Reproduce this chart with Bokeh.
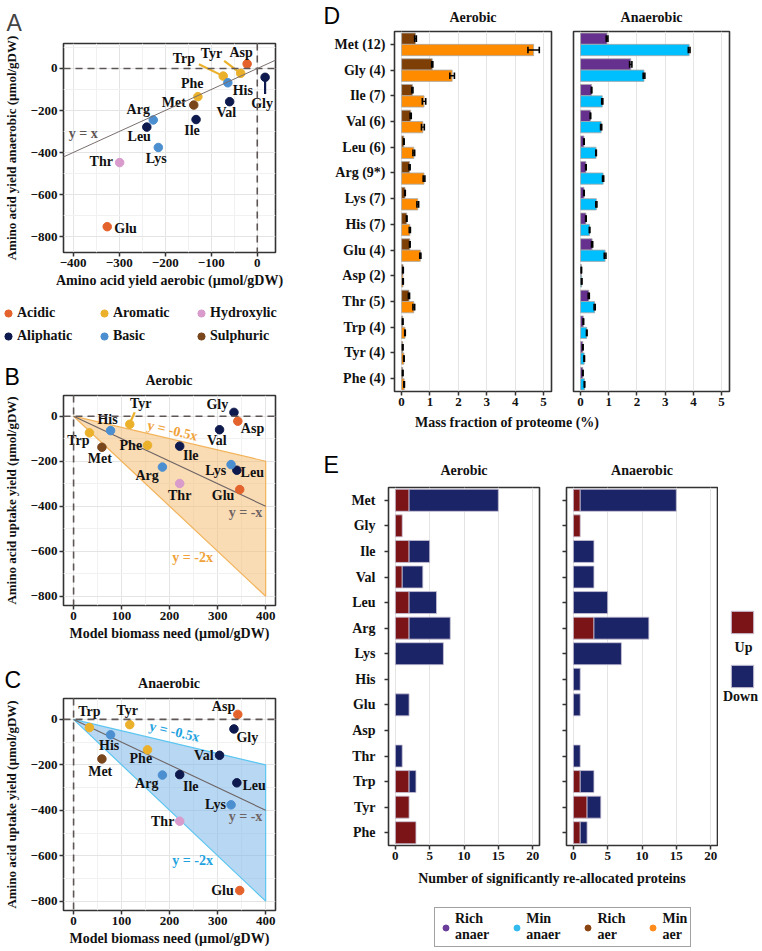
from bokeh.plotting import figure
from bokeh.models import (Range1d, FactorRange, Span, Slope, Label, Legend, LegendItem,
                          ColumnDataSource, Div, FixedTicker, CustomJSTickFormatter)
from bokeh.layouts import row, column
from bokeh.transform import dodge
from bokeh.core.properties import value
from bokeh.embed import file_html
from bokeh.resources import INLINE

SERIF = "Liberation Serif"
SANS = "Liberation Sans"
INK = "#111111"
FRAME = "#333333"

# ---------------- data: panels A-C ----------------
aa_names = ["Asp", "Tyr", "Trp", "His", "Phe", "Met", "Val", "Ile", "Gly", "Arg", "Leu", "Lys", "Thr", "Glu"]
aa_class = ["Acidic", "Aromatic", "Aromatic", "Basic", "Aromatic", "Sulphuric", "Aliphatic", "Aliphatic",
            "Aliphatic", "Basic", "Aliphatic", "Basic", "Hydroxylic", "Acidic"]
biomass_need = [342, 117, 33, 77, 154, 59, 304, 221, 334, 185, 340, 328, 221, 346]
yield_aerobic = [-22, -36, -74, -64, -129, -138, -60, -133, 17, -226, -240, -215, -299, -326]
yield_anaerobic = [22, -23, -36, -68, -134, -174, -158, -243, -42, -245, -279, -376, -448, -753]
classes = ["Acidic", "Aromatic", "Hydroxylic", "Aliphatic", "Basic", "Sulphuric"]
class_colors = ["#E4622B", "#EBB12B", "#D99BCB", "#0E1A4E", "#4C8FD0", "#7A461B"]
ref_slopes = [1, -1, -0.5, -2]
band_x = [0, 400]

# ---------------- data: panel D ----------------
d_aa = ["Met (12)", "Gly (4)", "Ile (7)", "Val (6)", "Leu (6)", "Arg (9*)", "Lys (7)",
        "His (7)", "Glu (4)", "Asp (2)", "Thr (5)", "Trp (4)", "Tyr (4)", "Phe (4)"]
rich_aer = [0.49, 1.08, 0.38, 0.32, 0.08, 0.28, 0.12, 0.18, 0.29, 0.05, 0.26, 0.04, 0.04, 0.04]
rich_aer_err = [0.03, 0.02, 0.02, 0.02, 0.01, 0.02, 0.01, 0.01, 0.01, 0.01, 0.02, 0.01, 0.01, 0.01]
min_aer = [4.65, 1.78, 0.79, 0.75, 0.43, 0.79, 0.57, 0.29, 0.66, 0.05, 0.43, 0.12, 0.08, 0.09]
min_aer_err = [0.20, 0.08, 0.06, 0.05, 0.03, 0.03, 0.03, 0.02, 0.02, 0.01, 0.03, 0.01, 0.01, 0.01]
rich_anaer = [0.94, 1.78, 0.39, 0.35, 0.12, 0.19, 0.12, 0.19, 0.41, 0.03, 0.29, 0.10, 0.08, 0.08]
rich_anaer_err = [0.03, 0.04, 0.01, 0.01, 0.01, 0.01, 0.01, 0.01, 0.02, 0.005, 0.02, 0.01, 0.01, 0.01]
min_anaer = [3.85, 2.25, 0.77, 0.73, 0.55, 0.80, 0.56, 0.32, 0.87, 0.04, 0.50, 0.22, 0.13, 0.14]
min_anaer_err = [0.03, 0.03, 0.02, 0.02, 0.01, 0.02, 0.02, 0.01, 0.03, 0.01, 0.02, 0.01, 0.01, 0.01]
d_xticks = [0, 1, 2, 3, 4, 5]
d_series = ["Rich\nanaer", "Min\nanaer", "Rich\naer", "Min\naer"]
d_colors = ["#6A3D9A", "#33BBEE", "#8B4513", "#FF8C1A"]

# ---------------- data: panel E ----------------
e_aa = ["Met", "Gly", "Ile", "Val", "Leu", "Arg", "Lys", "His", "Glu", "Asp", "Thr", "Trp", "Tyr", "Phe"]
up_aer = [2, 1, 2, 1, 2, 2, 0, 0, 0, 0, 0, 2, 2, 3]
down_aer = [13, 0, 3, 3, 4, 6, 7, 0, 2, 0, 1, 1, 0, 0]
up_anaer = [1, 1, 0, 0, 0, 3, 0, 0, 0, 0, 0, 1, 2, 1]
down_anaer = [14, 0, 3, 3, 5, 8, 7, 1, 1, 0, 1, 2, 2, 1]
e_xticks = [0, 5, 10, 15, 20]
UP_COLOR = "#7B1416"
DOWN_COLOR = "#1C2468"

# ---------------- styling helpers ----------------
GRID = "#E4E4E4"
MINOR = "#F1F1F1"


def base_fig(width, height, xr, yr, bl, br, bt, bb):
    p = figure(width=width, height=height, x_range=xr, y_range=yr,
               output_backend="svg", toolbar_location=None,
               min_border_left=bl, min_border_right=br, min_border_top=bt, min_border_bottom=bb)
    p.outline_line_color = FRAME
    p.outline_line_width = 1.6
    for ax in p.axis:
        ax.axis_line_color = None
        ax.major_tick_line_color = FRAME
        ax.major_tick_line_width = 1.5
        ax.major_tick_out = 4
        ax.major_tick_in = 0
        ax.minor_tick_line_color = None
        ax.major_label_text_font = SERIF
        ax.major_label_text_font_style = "bold"
        ax.major_label_text_font_size = "13px"
        ax.major_label_text_color = INK
        ax.axis_label_text_font = SERIF
        ax.axis_label_text_font_style = "bold"
        ax.axis_label_text_font_size = "14px"
        ax.axis_label_text_color = INK
        ax.axis_label_standoff = 3
        ax.major_label_standoff = 2
    p.grid.grid_line_color = GRID
    p.grid.grid_line_width = 1
    return p


def strip(width, height):
    p = figure(width=width, height=height, x_range=Range1d(0, width), y_range=Range1d(height, 0),
               x_axis_type=None, y_axis_type=None, output_backend="svg",
               toolbar_location=None, min_border=0)
    p.outline_line_color = None
    return p


def put_text(p, x, y, text, size="14px", font=SERIF, style="bold", align="center", color=INK):
    p.add_layout(Label(x=x, y=y, text=text, text_font=font, text_font_style=style,
                       text_font_size=size, text_color=color, text_align=align,
                       text_baseline="middle"))


def letter(p, text, x, y):
    put_text(p, x, y, text, size="23px", font=SANS, style="normal", align="left", color="#000000")


def ticks_with_minor(ticks):
    step = ticks[1] - ticks[0]
    minor = [t + step / 2 for t in ticks[:-1]] + [ticks[0] - step / 2, ticks[-1] + step / 2]
    return FixedTicker(ticks=ticks, minor_ticks=minor)


def zero_lines(p):
    for dim in ("width", "height"):
        p.add_layout(Span(location=0, dimension=dim, line_color="#5E5555",
                          line_dash="7 5", line_width=1.6))


color_of = dict(zip(classes, class_colors))
pt_colors = [color_of[c] for c in aa_class]


def scatter_panel(width, height, xr, yr, borders, xticks, yticks, xlabel, ylabel):
    bl, br, bt, bb = borders
    p = base_fig(width, height, Range1d(*xr), Range1d(*yr), bl, br, bt, bb)
    p.xaxis.ticker = ticks_with_minor(xticks)
    p.yaxis.ticker = ticks_with_minor(yticks)
    p.grid.minor_grid_line_color = MINOR
    p.xaxis.axis_label = xlabel
    p.yaxis.axis_label = ylabel
    p.yaxis.axis_label_text_font_size = "13px"
    p.yaxis.axis_label_standoff = 9
    ux = (xr[1] - xr[0]) / (width - bl - br)
    uy = (yr[1] - yr[0]) / (height - bt - bb)
    zero_lines(p)
    return p, ux, uy


def add_points(p, xs, ys, offsets, leaders, ux, uy):
    idx = {a: i for i, a in enumerate(aa_names)}
    for (a, dx0, dy0, dx1, dy1) in leaders:
        i = idx[a]
        p.segment(x0=[xs[i] + dx0 * ux], y0=[ys[i] - dy0 * uy],
                  x1=[xs[i] + dx1 * ux], y1=[ys[i] - dy1 * uy],
                  line_color=pt_colors[i], line_width=2.2)
    src = ColumnDataSource(dict(x=xs, y=ys, aa=aa_names, color=pt_colors,
                                dx=[offsets[a][0] for a in aa_names],
                                dy=[offsets[a][1] for a in aa_names]))
    p.scatter(x="x", y="y", size=8.5, fill_color="color", line_color="color", source=src)
    p.text(x="x", y="y", text="aa", x_offset="dx", y_offset="dy", source=src,
           text_font=value(SERIF), text_font_style="bold", text_font_size="14px",
           text_color=INK, text_align="center", text_baseline="middle")


# ================= Panel A =================
A_off = {"Asp": (-6, -11.4), "Tyr": (-29.3, -20), "Trp": (-39.4, -17.7), "His": (15, 8),
         "Phe": (-5.6, -13), "Met": (-20, -2.3), "Val": (-3.4, 11), "Ile": (-4, 11.3),
         "Gly": (-3, 26), "Arg": (-15, -10.6), "Leu": (-7.6, 9.6), "Lys": (-2, 11.4),
         "Thr": (-18.4, -0.7), "Glu": (18.3, 2)}
A_lead = [("Tyr", -16.6, -12.6, -3, -2.3), ("Trp", -24.4, -12, -3.5, -1.7), ("Gly", 0, 3.5, 0, 17)]
pA, uxA, uyA = scatter_panel(288, 294, (-421, 39.6), (-876, 119), (62, 13, 40, 42),
                             [-400, -300, -200, -100, 0], [-800, -600, -400, -200, 0],
                             "Amino acid yield aerobic (µmol/gDW)",
                             "Amino acid yield anaerobic (µmol/gDW)")
pA.title.text = "A"
pA.title.align = "left"
pA.title.offset = -57
pA.title.text_font = SANS
pA.title.text_font_style = "normal"
pA.title.text_font_size = "23px"
pA.title.standoff = 15
pA.add_layout(Slope(gradient=ref_slopes[0], y_intercept=0, line_color="#7A6E6E", line_width=1))
pA.add_layout(Label(x=-378, y=-308, text="y = x", text_font=SERIF, text_font_style="bold",
                    text_font_size="14px", text_color="#5E5656", text_align="center",
                    text_baseline="middle"))
add_points(pA, yield_aerobic, yield_anaerobic, A_off, A_lead, uxA, uyA)

# ---- strip with class key (3 x 2 grid), letter B and the "Aerobic" title ----
mid1 = strip(288, 98)
KEY_COL_X = [-1, 95, 192]
KEY_ROW_VY = [69, 46]
for k, (c, col) in enumerate(zip(classes, class_colors)):
    xs = [x for x, kk in zip(yield_aerobic, aa_class) if kk == c]
    ys = [y for y, kk in zip(yield_anaerobic, aa_class) if kk == c]
    r = mid1.scatter(x=xs, y=ys, size=8, fill_color=col, line_color=col, visible=False)
    leg = Legend(items=[LegendItem(label=c, renderers=[r])],
                 location=(KEY_COL_X[k % 3], KEY_ROW_VY[k // 3]),
                 glyph_width=18, glyph_height=20, label_standoff=0,
                 padding=0, margin=0, border_line_color=None, background_fill_alpha=0,
                 inactive_fill_alpha=0, label_height=20,
                 label_text_font=SERIF, label_text_font_style="bold", label_text_font_size="14px",
                 label_text_color=INK)
    mid1.add_layout(leg)
letter(mid1, "B", 4, 82)
put_text(mid1, 168.5, 86, "Aerobic")


# ================= Panels B & C =================
def band_panel(height, bt, bb, yvals, offsets, leaders, fill, edge, lab_color, lab05, lab2, lab1):
    p, ux, uy = scatter_panel(288, height, (-21, 420.5), (-841, 92), (62, 13, bt, bb),
                              [0, 100, 200, 300, 400], [-800, -600, -400, -200, 0],
                              "Model biomass need (µmol/gDW)",
                              "Amino acid uptake yield (µmol/gDW)")
    bx = [band_x[0], band_x[1], band_x[1]]
    by = [ref_slopes[2] * band_x[0], ref_slopes[2] * band_x[1], ref_slopes[3] * band_x[1]]
    p.patch(x=bx, y=by, fill_color=fill, fill_alpha=0.55, line_color=edge, line_width=1.2)
    p.line(x=band_x, y=[ref_slopes[1] * v for v in band_x], line_color="#6E6464", line_width=1.1)
    p.add_layout(Label(x=lab05[0], y=lab05[1], text="y = -0.5x", angle=-0.229, text_font=SERIF,
                       text_font_style="bold", text_font_size="14px", text_color=lab_color,
                       text_align="center", text_baseline="middle"))
    p.add_layout(Label(x=lab2[0], y=lab2[1], text="y = -2x", text_font=SERIF,
                       text_font_style="bold", text_font_size="14px", text_color=lab_color,
                       text_align="center", text_baseline="middle"))
    p.add_layout(Label(x=lab1[0], y=lab1[1], text="y = -x", text_font=SERIF,
                       text_font_style="bold", text_font_size="14px", text_color="#6E6464",
                       text_align="center", text_baseline="middle"))
    add_points(p, biomass_need, yvals, offsets, leaders, ux, uy)
    return p


B_off = {"Asp": (14.7, 7), "Tyr": (11, -20.4), "Trp": (-11, 7.7), "His": (-3, -10.7),
         "Phe": (-16.7, 0.3), "Met": (-2, 11.6), "Val": (-2.7, 10.7), "Ile": (11, 9.3),
         "Gly": (-16.6, -7.4), "Arg": (-15.3, 8.7), "Leu": (15.4, 2), "Lys": (-15.3, 6.3),
         "Thr": (0, 12.3), "Glu": (-16.7, 6)}
B_lead = [("Tyr", 5, -12, 1, -3)]
pB = band_panel(263, 3, 50, yield_aerobic, B_off, B_lead, "#F4BE76", "#F2B35A", "#F0A23A",
                (206, -64), (248, -626), (358, -427))

mid2 = strip(288, 37)
letter(mid2, "C", 4, 24)
put_text(mid2, 168.5, 28, "Anaerobic")

C_off = {"Asp": (-14.3, -8.3), "Tyr": (-2.6, -13.7), "Trp": (0, -15.7), "His": (-1.4, 11),
         "Phe": (-6.7, 9), "Met": (-1.7, 12.7), "Val": (-15.7, 0), "Ile": (11, 11.7),
         "Gly": (13.4, 8.4), "Arg": (-15.7, 8.6), "Leu": (17.3, 2.3), "Lys": (-15.7, -0.7),
         "Thr": (-17, 0), "Glu": (-17.3, 0)}
pC = band_panel(259, 6, 41, yield_anaerobic, C_off, [], "#7DB6EA", "#5CC6F0", "#1FA3E0",
                (210, -54), (248, -622), (358, -427))

# ================= Panel D =================
d_factors = d_aa[::-1]
BAR_H = 0.44
CAP = 0.13


def d_panel(width, bl, br, rich, rich_err, mn, mn_err, c_rich, c_min):
    p = base_fig(width, 384, Range1d(-0.25, 5.28), FactorRange(factors=d_factors), bl, br, 2, 22)
    p.xaxis.ticker = FixedTicker(ticks=d_xticks)
    p.ygrid.grid_line_color = None
    p.yaxis.major_label_text_font_size = "14px"
    p.yaxis.major_label_standoff = 5
    src = ColumnDataSource(dict(aa=d_aa, rich=rich, mn=mn,
                                rich_lo=[v - e for v, e in zip(rich, rich_err)],
                                rich_hi=[v + e for v, e in zip(rich, rich_err)],
                                mn_lo=[v - e for v, e in zip(mn, mn_err)],
                                mn_hi=[v + e for v, e in zip(mn, mn_err)]))
    for col, off, colr in (("rich", BAR_H / 2, c_rich), ("mn", -BAR_H / 2, c_min)):
        yc = dodge("aa", off, range=p.y_range)
        p.hbar(y=yc, left=0, right=col, height=BAR_H, fill_color=colr,
               line_color="#A9A9A9", line_width=0.8, source=src)
        p.segment(x0=col + "_lo", y0=yc, x1=col + "_hi", y1=yc, line_color="black",
                  line_width=1.3, source=src)
        for end in ("_lo", "_hi"):
            p.segment(x0=col + end, x1=col + end,
                      y0=dodge("aa", off - CAP, range=p.y_range),
                      y1=dodge("aa", off + CAP, range=p.y_range),
                      line_color="black", line_width=1.6, source=src)
    return p


pDa = d_panel(274, 106, 11, rich_aer, rich_aer_err, min_aer, min_aer_err, "#7E3F06", "#FF8C00")
pDn = d_panel(200, 11, 33, rich_anaer, rich_anaer_err, min_anaer, min_anaer_err, "#66308F", "#00BFFF")
pDn.yaxis.visible = False

hdrD = strip(474, 29)
letter(hdrD, "D", 35, 15)
put_text(hdrD, 184.5, 17, "Aerobic")
put_text(hdrD, 363, 17, "Anaerobic")

# ================= Panel E =================
e_factors = e_aa[::-1]


def e_panel(width, bl, br, up, down):
    p = base_fig(width, 384, Range1d(-1, 21), FactorRange(factors=e_factors), bl, br, 2, 24)
    p.xaxis.ticker = FixedTicker(ticks=e_xticks)
    p.ygrid.grid_line_color = None
    p.yaxis.major_label_text_font_size = "14px"
    p.yaxis.major_label_standoff = 9
    up_src = ColumnDataSource(dict(aa=[a for a, u in zip(e_aa, up) if u > 0],
                                   v=[u for u in up if u > 0]))
    dn_src = ColumnDataSource(dict(aa=[a for a, d in zip(e_aa, down) if d > 0],
                                   left=[u for u, d in zip(up, down) if d > 0],
                                   right=[u + d for u, d in zip(up, down) if d > 0]))
    p.hbar(y="aa", left=0, right="v", height=0.86, fill_color=UP_COLOR,
           line_color="#C9C3D6", line_width=0.8, source=up_src)
    p.hbar(y="aa", left="left", right="right", height=0.86, fill_color=DOWN_COLOR,
           line_color="#C9C3D6", line_width=0.8, source=dn_src)
    return p


pEa = e_panel(265, 100, 14, up_aer, down_aer)
pEn = e_panel(165, 13, 1, up_anaer, down_anaer)
pEn.yaxis.formatter = CustomJSTickFormatter(code="return ''")

hdrE = strip(474, 52)
letter(hdrE, "E", 35, 31)
put_text(hdrE, 175.5, 37, "Aerobic")
put_text(hdrE, 353.5, 37, "Anaerobic")

# Up / Down key at the right of panel E
pK = strip(44, 384)
k_items = []
for lab, vals, col in (("Up", up_anaer, UP_COLOR), ("Down", down_anaer, DOWN_COLOR)):
    r = pK.hbar(y=list(range(len(vals))), left=0, right=vals, height=0.8,
                fill_color=col, line_color="#C9C3D6", visible=False)
    k_items.append(LegendItem(label=value(""), renderers=[r]))
legK = Legend(items=k_items, location=(10, 155), glyph_width=28, glyph_height=28, spacing=26,
              padding=0, margin=0, label_width=0, label_standoff=0, label_height=0,
              border_line_color=None, background_fill_alpha=0, inactive_fill_alpha=0)
pK.add_layout(legK)
put_text(pK, 25, 172, "Up")
put_text(pK, 22, 224, "Down")


# ================= shared x titles & bottom legend =================
def title_div(text, shift):
    return Div(text=(f'<div style="width:474px;height:20px;line-height:20px;text-align:center;'
                     f'transform:translateX({shift}px);font-family:\'{SERIF}\';font-weight:bold;'
                     f'font-size:14px;color:{INK};white-space:nowrap">{text}</div>'),
               width=474, height=20, margin=0)


divD = title_div("Mass fraction of proteome (%)", -18)
divE = title_div("Number of significantly re-allocated proteins", 27)

pL = strip(474, 62)
leg_items = []
for lab, vals, c in zip(d_series, (rich_anaer, min_anaer, rich_aer, min_aer), d_colors):
    r = pL.scatter(x=vals, y=vals, size=7, fill_color=c, line_color=c, visible=False)
    leg_items.append(LegendItem(label=lab, renderers=[r]))
legL = Legend(items=leg_items, location=(146, 4), orientation="horizontal",
              glyph_width=15, glyph_height=15, label_standoff=2, spacing=20, padding=3, margin=0,
              border_line_color="#444444", border_line_width=1, inactive_fill_alpha=0,
              label_text_font=SERIF, label_text_font_style="bold", label_text_font_size="14px",
              label_text_color=INK, label_text_line_height=0.95)
pL.add_layout(legL)

# each left-column piece is wrapped in its own row so that the column does not
# align the plot frames of the text strips with those of the scatter panels
left = column(row(pA, spacing=0), row(mid1, spacing=0), row(pB, spacing=0),
              row(mid2, spacing=0), row(pC, spacing=0), spacing=0)
right = column(hdrD, row(pDa, pDn, spacing=0), divD, hdrE, row(pEa, pEn, pK, spacing=0),
               divE, pL, spacing=0)
layout = row(left, right, spacing=0)

open("out.html", "w").write(file_html(layout, INLINE))
